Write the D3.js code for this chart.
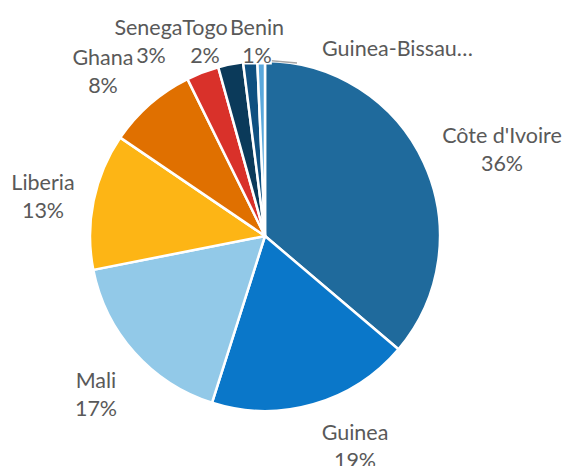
<!DOCTYPE html>
<html>
<head>
<meta charset="utf-8">
<script src="https://cdn.jsdelivr.net/npm/d3@7"></script>
<style>
  html, body { margin: 0; padding: 0; background: #fff; }
  svg text { font-family: Lato, "Open Sans", sans-serif; fill: #595959; }
</style>
</head>
<body>
<svg id="chart" width="565" height="466"></svg>
<script>
// Share of total by country (percent)
const countries = ["Côte d'Ivoire", "Guinea", "Mali", "Liberia", "Ghana", "Senegal", "Togo", "Benin", "Guinea-Bissau"];
const shares = [36.2, 18.7, 17.0, 12.6, 8.2, 3.0, 2.3, 1.3, 0.7];
const sliceColors = ["#1f6a9c", "#0a77c9", "#92c9e8", "#fdb515", "#e07000", "#d9312a", "#0b3a5a", "#0f5080", "#5aa8dc"];
// Text shown for each slice (the last name is truncated where its label runs out of room)
const labelNames = ["Côte d'Ivoire", "Guinea", "Mali", "Liberia", "Ghana", "Senegal", "Togo", "Benin", "Guinea-Bissau…"];
const showPercent = [true, true, true, true, true, true, true, true, false];

// Label anchor points (centre of the first line; the last one is left-aligned)
const labelSpots = [[502, 135], [355, 432], [96, 380], [43, 182], [103, 57], [151, 27], [205, 27], [257, 27], [322, 48]];

const svg = d3.select("#chart");
const cx = 265, cy = 236, r = 175;
const fontSize = 21.5, lineGap = 27.5;

const data = countries.map((c, i) => ({ name: c, value: shares[i], color: sliceColors[i], i }));

const pie = d3.pie().value(d => d.value).sort(null);
const arc = d3.arc().innerRadius(0).outerRadius(r);
const arcs = pie(data);

const g = svg.append("g").attr("transform", `translate(${cx},${cy})`);

g.selectAll("path.slice")
  .data(arcs)
  .join("path")
  .attr("class", "slice")
  .attr("d", arc)
  .attr("fill", d => d.data.color)
  .attr("stroke", "#fff")
  .attr("stroke-width", 2.5)
  .attr("stroke-linejoin", "round");

// Leader line for the thin Guinea-Bissau slice
const gb = arcs[arcs.length - 1];
const gbMid = (gb.startAngle + gb.endAngle) / 2;
const edge = [Math.sin(gbMid) * (r - 1), -Math.cos(gbMid) * (r - 1)];
g.append("polyline")
  .attr("points", [edge, [edge[0] + 2, edge[1] - 2], [297 - cx, 63 - cy]].map(p => p.join(",")).join(" "))
  .attr("fill", "none")
  .attr("stroke", "#a6a6a6")
  .attr("stroke-width", 1.5);

// Data labels; every line sits on a tight white box so a later label covers an earlier one
const labels = svg.append("g");
function labelLine(x, y, str, anchor) {
  const lg = labels.append("g");
  const box = lg.append("rect").attr("fill", "#fff");
  const t = lg.append("text")
    .attr("x", x)
    .attr("y", y)
    .attr("text-anchor", anchor)
    .attr("dominant-baseline", "central")
    .style("font-size", fontSize + "px")
    .text(str);
  const bb = t.node().getBBox();
  box.attr("x", bb.x).attr("y", bb.y + 3).attr("width", bb.width).attr("height", Math.max(0, bb.height - 6));
}
arcs.forEach((d, i) => {
  const [x, y] = labelSpots[i];
  const anchor = showPercent[i] ? "middle" : "start";
  labelLine(x, y, labelNames[i], anchor);
  if (showPercent[i]) labelLine(x, y + lineGap, Math.round(d.data.value) + "%", anchor);
});
</script>
</body>
</html>
